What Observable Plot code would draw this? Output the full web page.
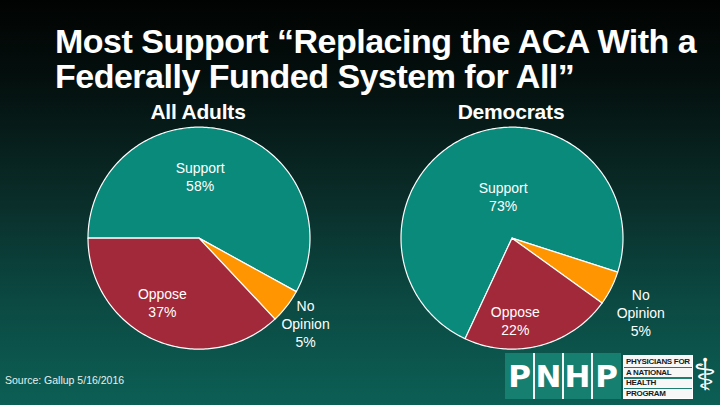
<!DOCTYPE html>
<html>
<head>
<meta charset="utf-8">
<script src="https://cdn.jsdelivr.net/npm/d3@7"></script>
<script src="https://cdn.jsdelivr.net/npm/@observablehq/plot@0.6"></script>
<style>
  html, body { margin: 0; padding: 0; }
  body {
    width: 720px; height: 405px; overflow: hidden; position: relative;
    background: linear-gradient(to bottom, #010302 0%, #04100e 20%, #0a2e2a 50%, #0b4a43 75%, #0c5f55 100%);
    font-family: "Liberation Sans", Arial, sans-serif; color: #fff;
  }
  #title {
    position: absolute; left: 55px; top: 24px; width: 680px;
    font-weight: bold; font-size: 34px; line-height: 35px; color: #fff;
    letter-spacing: -0.5px;
  }
  .sub { position: absolute; top: 100px; font-weight: bold; font-size: 21px; width: 200px; text-align: center; letter-spacing: -0.2px; }
  .pie { position: absolute; }
  #source { position: absolute; left: 5px; top: 374px; font-size: 10.5px; color: #e8f0ee; }
  #logo { position: absolute; left: 505px; top: 353px; height: 46px; }
  .cell { position: absolute; top: 0; width: 29px; height: 46px; background: #177f70;
          color: #fff; font-family: "DejaVu Sans", sans-serif; font-weight: bold; font-size: 31px; line-height: 46px; text-align: center; }
  .sep { position: absolute; top: 0; width: 2px; height: 46px; background: #f4f4f4; }
  #tbox { position: absolute; left: 118px; top: 2px; width: 68px; height: 42px; background: #f7f7f7; border: 1px solid #fff; }
  .tl { position: absolute; left: 2px; font-size: 8px; font-weight: bold; color: #1a1a1a; letter-spacing: -0.3px; white-space: nowrap; }
  .rule { position: absolute; left: 0; width: 68px; height: 1.5px; background: #1d7e70; }
  #cad { position: absolute; left: 188px; top: -4px; font-family: "DejaVu Sans"; font-size: 44px; color: #fff; }
</style>
</head>
<body>
<div id="title"></div>
<div id="subs"></div>
<div id="pies"></div>
<div id="source"></div>
<div id="logo"></div>
<script>
// ---- data ----
const categories = ["Support", "No Opinion", "Oppose"];   // clockwise order of slices
const groups = ["All Adults", "Democrats"];
const allAdults = [58, 5, 37];
const democrats = [73, 5, 22];
const titleLines = ["Most Support “Replacing the ACA With a", "Federally Funded System for All”"];
const sourceText = "Source: Gallup 5/16/2016";
const logoLetters = ["P", "N", "H", "P"];
const logoLines = ["PHYSICIANS FOR", "A NATIONAL", "HEALTH", "PROGRAM"];

// ---- layout / style ----
const colors = {"Support": "#0a8a7b", "No Opinion": "#ff9500", "Oppose": "#a2293a"};
const R = 111;
const pieLayout = [
  {cx: 198, cy: 238, start: -90,
   labels: {"Support": [0.01, -0.56], "Oppose": [-0.33, 0.58], "No Opinion": [0.96, 0.77]}},
  {cx: 511, cy: 238, start: 205,
   labels: {"Support": [-0.08, -0.38], "Oppose": [0.03, 0.74], "No Opinion": [1.16, 0.67]}}
];
const XD = 1.5, YD = 1.15;

document.getElementById("title").innerHTML = titleLines.join("<br>");
document.getElementById("source").textContent = sourceText;

const series = [allAdults, democrats];
series.forEach((vals, gi) => {
  const lay = pieLayout[gi];
  const total = d3.sum(vals);
  let acc = lay.start;
  const polys = [];
  const labels = [];
  vals.forEach((v, i) => {
    const a0 = acc, a1 = acc + v / total * 360;
    acc = a1;
    const cat = categories[i];
    polys.push({cat, x: 0, y: 0});
    const n = Math.max(2, Math.ceil(a1 - a0));
    for (let k = 0; k <= n; k++) {
      const t = (a0 + (a1 - a0) * k / n) * Math.PI / 180;
      polys.push({cat, x: Math.sin(t), y: -Math.cos(t)});
    }
    const [lx, ly] = lay.labels[cat];
    labels.push({cat, x: lx, y: ly, text: `${cat === "No Opinion" ? "No\nOpinion" : cat}\n${v}%`});
  });
  const W = 2 * XD * R, H = 2 * YD * R;
  const chart = Plot.plot({
    width: W, height: H,
    margin: 0,
    style: {background: "transparent", overflow: "visible"},
    x: {domain: [-XD, XD], axis: null},
    y: {domain: [YD, -YD], axis: null},
    color: {domain: categories, range: categories.map(c => colors[c])},
    marks: [
      Plot.line(polys, {x: "x", y: "y", z: "cat", fill: "cat", stroke: "white", strokeWidth: 1.2, curve: "linear-closed"}),
      Plot.text(labels, {x: "x", y: "y", text: "text", fill: "white", fontSize: 14, lineHeight: 1.28,
        fontFamily: "Liberation Sans, Arial, sans-serif", textAnchor: "middle"})
    ]
  });
  chart.classList.add("pie");
  chart.style.left = (lay.cx - W / 2) + "px";
  chart.style.top = (lay.cy - H / 2) + "px";
  document.getElementById("pies").appendChild(chart);

  const s = document.createElement("div");
  s.className = "sub";
  s.textContent = groups[gi];
  s.style.left = (lay.cx - 100) + "px";
  document.getElementById("subs").appendChild(s);
});

// logo
const logo = document.getElementById("logo");
logoLetters.forEach((L, i) => {
  const c = document.createElement("div");
  c.className = "cell"; c.textContent = L; c.style.left = (i * 29) + "px";
  logo.appendChild(c);
  if (i > 0) { const sp = document.createElement("div"); sp.className = "sep"; sp.style.left = (i * 29 - 1) + "px"; logo.appendChild(sp); }
});
const tb = document.createElement("div"); tb.id = "tbox";
logoLines.forEach((t, i) => {
  const l = document.createElement("div"); l.className = "tl"; l.textContent = t; l.style.top = (1 + i * 10.5) + "px";
  tb.appendChild(l);
  if (i > 0) { const r = document.createElement("div"); r.className = "rule"; r.style.top = (i * 10.5) + "px"; tb.appendChild(r); }
});
logo.appendChild(tb);
const cad = document.createElement("div"); cad.id = "cad"; cad.textContent = "⚕"; logo.appendChild(cad);
</script>
</body>
</html>
